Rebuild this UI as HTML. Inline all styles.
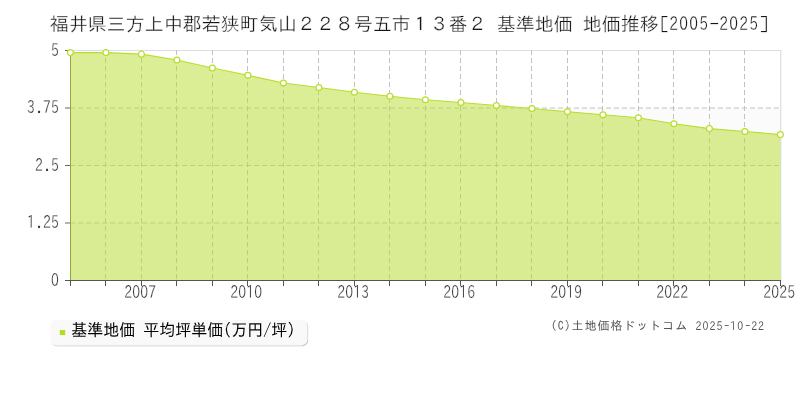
<!DOCTYPE html>
<html lang="ja"><head><meta charset="utf-8"><title>福井県三方上中郡若狭町気山２２８号五市１３番２ 基準地価 地価推移</title>
<style>html,body{margin:0;padding:0;background:#fff}body{width:800px;height:400px;overflow:hidden}svg{display:block}.j{font-family:"IPAGothic", "Liberation Sans", "Noto Sans CJK JP", sans-serif}.n{font-family:"IPAPGothic", "IPAGothic", "Liberation Sans", sans-serif}</style></head><body>
<svg width="800" height="400" viewBox="0 0 800 400">
<rect width="800" height="400" fill="#fff"/>
<rect x="70" y="108" width="711" height="57.5" fill="#fbfbfb"/>
<rect x="70" y="223" width="711" height="57.5" fill="#fbfbfb"/>
<path d="M70 50.5H780.7V281" fill="none" stroke="#dedee2" stroke-width="1.2"/>
<g stroke="#c2c2c2" stroke-width="1" stroke-dasharray="5 3" fill="none">
<path d="M105.5 50V280"/>
<path d="M141.5 50V280"/>
<path d="M176.5 50V280"/>
<path d="M212.5 50V280"/>
<path d="M247.5 50V280"/>
<path d="M283.5 50V280"/>
<path d="M318.5 50V280"/>
<path d="M354.5 50V280"/>
<path d="M389.5 50V280"/>
<path d="M425.5 50V280"/>
<path d="M460.5 50V280"/>
<path d="M496.5 50V280"/>
<path d="M531.5 50V280"/>
<path d="M567.5 50V280"/>
<path d="M602.5 50V280"/>
<path d="M638.5 50V280"/>
<path d="M673.5 50V280"/>
<path d="M709.5 50V280"/>
<path d="M744.5 50V280"/>
<path d="M70 108H781"/>
<path d="M70 165.5H781"/>
<path d="M70 223H781"/>
</g>
<path d="M70.4 280.5L70.4 52.6L105.9 52.6L141.4 54.2L176.9 60L212.4 68L247.9 75.25L283.4 83L318.9 87.5L354.4 92.25L389.9 96.25L425.4 99.75L460.9 102.5L496.4 105.5L531.9 108.5L567.4 111.75L602.9 114.75L638.4 117.75L673.9 123.75L709.4 128.6L744.9 131.5L780.4 134.6L780.4 280.5Z" fill="#b8de2c" fill-opacity="0.5"/>
<path d="M70.5 54.6V280" stroke="#8faa36" stroke-width="1" fill="none"/>
<path d="M70.4 52.6L105.9 52.6L141.4 54.2L176.9 60L212.4 68L247.9 75.25L283.4 83L318.9 87.5L354.4 92.25L389.9 96.25L425.4 99.75L460.9 102.5L496.4 105.5L531.9 108.5L567.4 111.75L602.9 114.75L638.4 117.75L673.9 123.75L709.4 128.6L744.9 131.5L780.4 134.6" fill="none" stroke="#b8de2c" stroke-width="1.2" stroke-linejoin="round"/>
<path d="M65 50.5H70" stroke="#666" stroke-width="1"/>
<path d="M65 108H70" stroke="#666" stroke-width="1"/>
<path d="M65 165.5H70" stroke="#666" stroke-width="1"/>
<path d="M65 223H70" stroke="#666" stroke-width="1"/>
<g stroke="#555" stroke-width="1">
<path d="M65 280.5H781"/>
<path d="M70.5 280V286"/>
<path d="M105.5 280V286"/>
<path d="M141.5 280V286"/>
<path d="M176.5 280V286"/>
<path d="M212.5 280V286"/>
<path d="M247.5 280V286"/>
<path d="M283.5 280V286"/>
<path d="M318.5 280V286"/>
<path d="M354.5 280V286"/>
<path d="M389.5 280V286"/>
<path d="M425.5 280V286"/>
<path d="M460.5 280V286"/>
<path d="M496.5 280V286"/>
<path d="M531.5 280V286"/>
<path d="M567.5 280V286"/>
<path d="M602.5 280V286"/>
<path d="M638.5 280V286"/>
<path d="M673.5 280V286"/>
<path d="M709.5 280V286"/>
<path d="M744.5 280V286"/>
<path d="M780.5 280V286"/>
</g>
<g fill="#fff" stroke="#b8de2c" stroke-width="1.2">
<circle cx="70.4" cy="52.6" r="2.95"/>
<circle cx="105.9" cy="52.6" r="2.95"/>
<circle cx="141.4" cy="54.2" r="2.95"/>
<circle cx="176.9" cy="60" r="2.95"/>
<circle cx="212.4" cy="68" r="2.95"/>
<circle cx="247.9" cy="75.25" r="2.95"/>
<circle cx="283.4" cy="83" r="2.95"/>
<circle cx="318.9" cy="87.5" r="2.95"/>
<circle cx="354.4" cy="92.25" r="2.95"/>
<circle cx="389.9" cy="96.25" r="2.95"/>
<circle cx="425.4" cy="99.75" r="2.95"/>
<circle cx="460.9" cy="102.5" r="2.95"/>
<circle cx="496.4" cy="105.5" r="2.95"/>
<circle cx="531.9" cy="108.5" r="2.95"/>
<circle cx="567.4" cy="111.75" r="2.95"/>
<circle cx="602.9" cy="114.75" r="2.95"/>
<circle cx="638.4" cy="117.75" r="2.95"/>
<circle cx="673.9" cy="123.75" r="2.95"/>
<circle cx="709.4" cy="128.6" r="2.95"/>
<circle cx="744.9" cy="131.5" r="2.95"/>
<circle cx="780.4" cy="134.6" r="2.95"/>
</g>
<g font-size="17.75" fill="#2c2c2c" stroke="#fff" stroke-width="0.3">
<text><tspan class="n" x="50.9" y="55.75" letter-spacing="0.25" textLength="8" lengthAdjust="spacingAndGlyphs">5</tspan></text>
<text><tspan class="n" x="26.9" y="113.25" letter-spacing="0.25" textLength="8" lengthAdjust="spacingAndGlyphs">3</tspan><tspan class="j" x="36.4" y="113.1" textLength="8" lengthAdjust="spacingAndGlyphs">.</tspan><tspan class="n" x="42.9" y="113.25" letter-spacing="0.25" textLength="16" lengthAdjust="spacingAndGlyphs">75</tspan></text>
<text><tspan class="n" x="34.9" y="170.75" letter-spacing="0.25" textLength="8" lengthAdjust="spacingAndGlyphs">2</tspan><tspan class="j" x="44.4" y="170.6" textLength="8" lengthAdjust="spacingAndGlyphs">.</tspan><tspan class="n" x="50.9" y="170.75" letter-spacing="0.25" textLength="8" lengthAdjust="spacingAndGlyphs">5</tspan></text>
<text><tspan class="n" x="26.9" y="228.25" letter-spacing="0.25" textLength="8" lengthAdjust="spacingAndGlyphs">1</tspan><tspan class="j" x="36.4" y="228.1" textLength="8" lengthAdjust="spacingAndGlyphs">.</tspan><tspan class="n" x="42.9" y="228.25" letter-spacing="0.25" textLength="16" lengthAdjust="spacingAndGlyphs">25</tspan></text>
<text><tspan class="n" x="50.9" y="285.75" letter-spacing="0.25" textLength="8" lengthAdjust="spacingAndGlyphs">0</tspan></text>
<text><tspan class="n" x="124.2" y="297.65" letter-spacing="0.25" textLength="32" lengthAdjust="spacingAndGlyphs">2007</tspan></text>
<text><tspan class="n" x="230.2" y="297.65" letter-spacing="0.25" textLength="32" lengthAdjust="spacingAndGlyphs">2010</tspan></text>
<text><tspan class="n" x="337.2" y="297.65" letter-spacing="0.25" textLength="32" lengthAdjust="spacingAndGlyphs">2013</tspan></text>
<text><tspan class="n" x="443.2" y="297.65" letter-spacing="0.25" textLength="32" lengthAdjust="spacingAndGlyphs">2016</tspan></text>
<text><tspan class="n" x="550.2" y="297.65" letter-spacing="0.25" textLength="32" lengthAdjust="spacingAndGlyphs">2019</tspan></text>
<text><tspan class="n" x="656.2" y="297.65" letter-spacing="0.25" textLength="32" lengthAdjust="spacingAndGlyphs">2022</tspan></text>
<text><tspan class="n" x="763.2" y="297.65" letter-spacing="0.25" textLength="32" lengthAdjust="spacingAndGlyphs">2025</tspan></text>
</g>
<text font-size="19" fill="#161616" stroke="#fff" stroke-width="0.3"><tspan class="j" x="49.8" y="30.6" word-spacing="0.5">福井県三方上中郡若狭町気山２２８号五市１３番２ 基準地価 地価推移</tspan><tspan class="j" x="659.2" y="30.6" textLength="10" lengthAdjust="spacingAndGlyphs">[</tspan><tspan class="n" x="669.2" y="29.8" letter-spacing="1.73" textLength="40" lengthAdjust="spacingAndGlyphs">2005</tspan><tspan class="j" x="709.2" y="30.6" textLength="10" lengthAdjust="spacingAndGlyphs">-</tspan><tspan class="n" x="719.2" y="29.8" letter-spacing="1.73" textLength="40" lengthAdjust="spacingAndGlyphs">2025</tspan><tspan class="j" x="759.2" y="30.6" textLength="10" lengthAdjust="spacingAndGlyphs">]</tspan></text>
<defs><filter id="sh" x="-5%" y="-20%" width="110%" height="150%"><feDropShadow dx="0.8" dy="0.9" stdDeviation="0.7" flood-color="#000" flood-opacity="0.28"/></filter></defs>
<rect x="50.5" y="320" width="256.6" height="25.2" rx="5.5" fill="#f9f9f9" filter="url(#sh)"/>
<rect x="59.8" y="330" width="5.4" height="5.1" fill="#b2dc26"/>
<text class="j" x="71.3" y="336.1" font-size="16.9" fill="#000" textLength="224" lengthAdjust="spacingAndGlyphs">基準地価 平均坪単価(万円/坪)</text>
<text font-size="12" fill="#555"><tspan class="j" x="550.7" y="330.2" letter-spacing="0.95">(C)土地価格ドットコム </tspan><tspan class="n" x="695.55" y="329.7" letter-spacing="1.36" textLength="27.8" lengthAdjust="spacingAndGlyphs">2025</tspan><tspan class="j" x="724.325" y="330.2" textLength="5" lengthAdjust="spacingAndGlyphs">-</tspan><tspan class="n" x="730.3" y="329.7" letter-spacing="1.36" textLength="13.9" lengthAdjust="spacingAndGlyphs">10</tspan><tspan class="j" x="745.175" y="330.2" textLength="5" lengthAdjust="spacingAndGlyphs">-</tspan><tspan class="n" x="751.15" y="329.7" letter-spacing="1.36" textLength="13.9" lengthAdjust="spacingAndGlyphs">22</tspan></text>
</svg></body></html>
